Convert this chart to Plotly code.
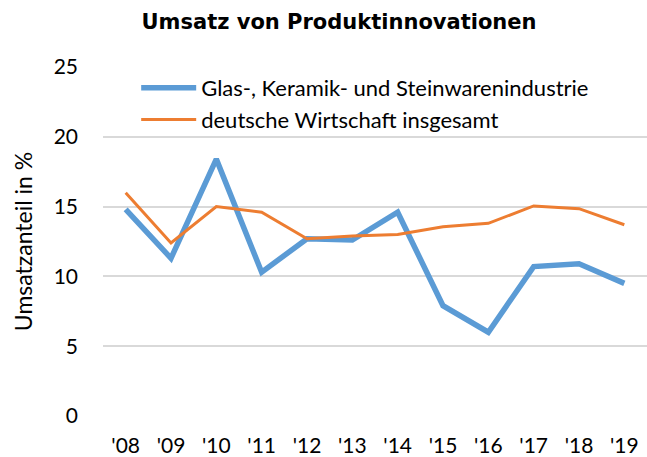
import plotly.graph_objects as go

years = ["'08", "'09", "'10", "'11", "'12", "'13", "'14", "'15", "'16", "'17", "'18", "'19"]
glas = [14.8, 11.3, 18.4, 10.3, 12.7, 12.6, 14.6, 7.9, 6.0, 10.7, 10.9, 9.5]
gesamt = [16.0, 12.4, 15.0, 14.6, 12.7, 12.9, 13.0, 13.55, 13.8, 15.05, 14.85, 13.7]
y_ticks = [0, 5, 10, 15, 20, 25]

fig = go.Figure()
fig.add_trace(go.Scatter(x=years, y=glas, mode="lines",
                         name="Glas-, Keramik- und Steinwarenindustrie",
                         line=dict(color="#5B9BD5", width=5.5)))
fig.add_trace(go.Scatter(x=years, y=gesamt, mode="lines",
                         name="deutsche Wirtschaft insgesamt",
                         line=dict(color="#ED7D31", width=3)))

fig.update_layout(
    width=647, height=457,
    margin=dict(l=103, r=0, t=67, b=39),
    paper_bgcolor="white", plot_bgcolor="white",
    font=dict(family="Lato, Open Sans, sans-serif", size=21, color="#000000"),
    title=dict(text="<b>Umsatz von Produktinnovationen</b>",
               font=dict(family="DejaVu Sans, Verdana, sans-serif", size=21, color="#000"),
               x=0.524, xanchor="center", y=0.952, yanchor="middle"),
    showlegend=True,
    legend=dict(x=0.061, y=1.0, xanchor="left", yanchor="top",
                bgcolor="rgba(0,0,0,0)", font=dict(size=22),
                itemwidth=55),
    xaxis=dict(type="category", range=[-0.5, 11.5], showgrid=False, showline=False,
               ticks="", tickfont=dict(size=21), ticklabelstandoff=15),
    yaxis=dict(range=[0, 25], tickvals=y_ticks, showgrid=True, gridcolor="#D9D9D9",
               gridwidth=1.5, zeroline=False, showline=False, ticks="",
               tickfont=dict(size=21), ticklabelstandoff=24,
               title=dict(text="Umsatzanteil in %", font=dict(size=23), standoff=14)),
)

fig.write_html("out.html", config={"displayModeBar": False},
               post_script="document.body.style.margin='0';")
